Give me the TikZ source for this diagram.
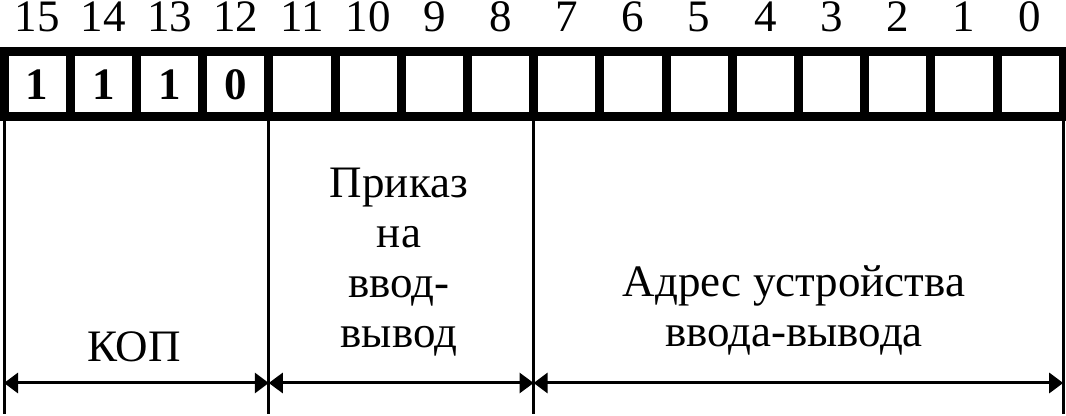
\documentclass[tikz,border=0pt]{standalone}
\usepackage{fontspec}
\setmainfont{Liberation Serif}
\usetikzlibrary{arrows.meta,positioning}

\begin{document}
\begin{tikzpicture}[x=0.5pt,y=-0.5pt,>={Triangle[length=7pt,width=10pt]},
  txt/.style={font=\fontsize{22.5}{25}\selectfont},
  cell/.style={txt,draw,line width=4.5pt,minimum width=33.1pt,minimum height=32.5pt,
    inner sep=0pt,outer sep=0pt,font=\fontsize{22.5}{25}\selectfont\bfseries},
  bitno/.style={txt,inner sep=0pt,anchor=base,yshift=10pt},
  field/.style={txt,align=center,inner sep=0pt},
  thin/.style={line width=1.5pt}]
  \useasboundingbox (0,0) rectangle (1066,416);
  \node[cell] (c15) at (37.1,84.5) {1};
  \node[cell,right=0pt of c15] (c14) {1};
  \node[cell,right=0pt of c14] (c13) {1};
  \node[cell,right=0pt of c13] (c12) {0};
  \foreach \i in {11,...,0}{
    \pgfmathtruncatemacro\j{\i+1}
    \node[cell,right=0pt of c\j] (c\i) {};
  }
  \foreach \i in {0,...,15}
    \node[bitno] (n\i) at (c\i.north) {\i};
  \coordinate (bot) at (0,414);
  \coordinate (arr) at (0,383);
  \foreach \c in {c15.south west,c12.south east,c8.south east,c0.south east}
    \draw[thin] (\c) -- (\c |- bot);
  \draw[thin,<->] (c15.south west |- arr) -- (c12.south east |- arr);
  \draw[thin,<->] (c12.south east |- arr) -- (c8.south east |- arr);
  \draw[thin,<->] (c8.south east |- arr) -- (c0.south east |- arr);
  \node[field,anchor=base] (kop) at (134,362) {КОП};
  \node[field] (cmd) at (399,262) {Приказ\\на\\ввод-\\вывод};
  \node[field] (addr) at (794,310.5) {Адрес устройства\\ввода-вывода};
\end{tikzpicture}
\end{document}
